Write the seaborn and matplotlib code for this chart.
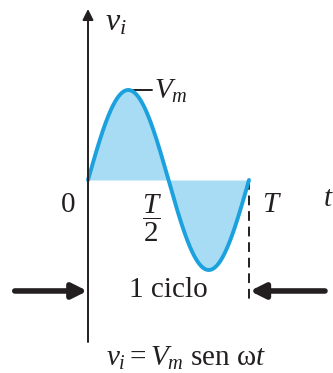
import numpy as np
import pandas as pd
import matplotlib
matplotlib.use("Agg")
import matplotlib.pyplot as plt
import seaborn as sns

sns.set_theme(style="white")
plt.rcParams["font.family"] = ["Liberation Serif", "DejaVu Serif"]
plt.rcParams["mathtext.fontset"] = "custom"
plt.rcParams["mathtext.rm"] = "Liberation Serif"
plt.rcParams["mathtext.it"] = "Liberation Serif:italic"

# Signal parameters: one full cycle of v_i = V_m sen(wt)
period = 1.0
v_peak = 1.0
samples = 400

time_label = "t"
tick_labels = ["0", r"$\dfrac{T}{2}$", r"$T$"]

t = np.linspace(0.0, period, samples)
v = v_peak * np.sin(2 * np.pi * t / period)
df = pd.DataFrame({"t": t, "v": v})

ink = "#231f20"
wave = "#1ba1dd"
fill = "#a8dcf5"

fig = plt.figure(figsize=(3.33, 3.73), dpi=100)
ax = fig.add_axes([0, 0, 1, 1])
ax.set_xlim(-88 / 161, 245 / 161)
ax.set_ylim(-193 / 90, 2.0)
ax.axis("off")

# shaded areas under the wave
ax.fill_between(df["t"], df["v"], 0, color=fill, lw=0, zorder=1)
sns.lineplot(data=df, x="t", y="v", ax=ax, color=wave, lw=2.8, zorder=3,
             sort=False, estimator=None)

# axes with arrowheads
ax.annotate("", xy=(1.525, 0), xytext=(-0.472, 0),
            arrowprops=dict(arrowstyle="-|>", color=ink, lw=1.4,
                            mutation_scale=16, shrinkA=0, shrinkB=0), zorder=4)
ax.annotate("", xy=(0, 1.9), xytext=(0, -1.8),
            arrowprops=dict(arrowstyle="-|>", color=ink, lw=1.4,
                            mutation_scale=16, shrinkA=0, shrinkB=0), zorder=4)

# end-of-period marker
ax.plot([period, period], [0, -1.333], color=ink, lw=1.4,
        ls=(0, (5, 3)), zorder=2)

# peak marker
ax.plot([0.23, 0.40], [v_peak, v_peak], color=ink, lw=1.4, zorder=2)

# cycle arrows
for start, end in [(-0.455, -0.004), (1.472, 1.006)]:
    ax.annotate("", xy=(end, -1.233), xytext=(start, -1.233),
                arrowprops=dict(arrowstyle="-|>", color=ink, lw=4,
                                mutation_scale=22, shrinkA=0, shrinkB=0))

fs = 21
ax.text(0.105, 1.74, r"$v_i$", fontsize=23, color=ink, ha="left", va="center")
ax.text(0.41, 0.98, r"$V_m$", fontsize=fs, color=ink, ha="left", va="center")
ax.text(-0.125, -0.28, tick_labels[0], fontsize=fs, color=ink, ha="center", va="center")
ax.text(0.40, -0.43, tick_labels[1], fontsize=fs, color=ink, ha="center", va="center")
ax.text(1.143, -0.28, tick_labels[2], fontsize=fs, color=ink, ha="center", va="center")
ax.text(1.46, -0.21, rf"${time_label}$", fontsize=fs, color=ink, ha="left", va="center")
ax.text(0.497, -1.22, "1 ciclo", fontsize=fs, color=ink, ha="center", va="center")
ax.text(0.61, -1.98, r"$v_i = V_m\ \mathrm{sen}\ \mathrm{\omega}t$", fontsize=fs,
        color=ink, ha="center", va="center")

fig.savefig("out.png", dpi=100, facecolor="white")
